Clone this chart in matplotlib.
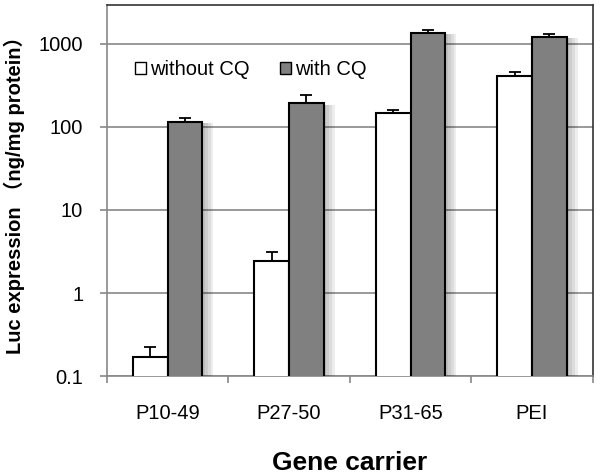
import numpy as np
import matplotlib.pyplot as plt
import matplotlib.patheffects as pe
from matplotlib.ticker import FixedLocator, NullFormatter

plt.rcParams['font.family'] = ['Liberation Sans', 'Noto Sans CJK SC', 'DejaVu Sans']

carriers = ['P10-49', 'P27-50', 'P31-65', 'PEI']
without_cq = [0.17, 2.45, 146, 408]
without_err = [0.055, 0.65, 14, 52]
with_cq = [115, 193, 1357, 1205]
with_err = [13, 52, 103, 115]

x = np.arange(len(carriers))
w = 0.285

fig, ax = plt.subplots(figsize=(6, 4.75), dpi=100)
fig.subplots_adjust(left=0.178, right=0.988, top=0.99, bottom=0.208)

# soft shadow to the right of each bar, faked with a few offset layers
shadow = [pe.SimplePatchShadow(offset=(d, -1), shadow_rgbFace='black', alpha=0.07)
          for d in (8, 6, 4, 2)] + [pe.Normal()]
b1 = ax.bar(x - w/2, without_cq, w, color='white', edgecolor='black', linewidth=1.5,
            label='without CQ', zorder=3)
b2 = ax.bar(x + w/2, with_cq, w, color='#808080', edgecolor='black', linewidth=1.5,
            label='with CQ', zorder=3)
for b in list(b1) + list(b2):
    b.set_path_effects(shadow)

ax.errorbar(x - w/2, without_cq, yerr=[np.zeros(4), without_err], fmt='none',
            ecolor='black', elinewidth=1.3, capsize=4, capthick=1.3, zorder=4)
ax.errorbar(x + w/2, with_cq, yerr=[np.zeros(4), with_err], fmt='none',
            ecolor='black', elinewidth=1.3, capsize=4, capthick=1.3, zorder=4)

ax.set_yscale('log')
ax.set_ylim(0.1, 2950)
ax.set_xlim(-0.5, 3.5)
ax.set_yticks([0.1, 1, 10, 100, 1000])
ax.set_yticklabels(['0.1', '1', '10', '100', '1000'])
ax.yaxis.set_minor_locator(FixedLocator([]))
ax.yaxis.grid(True, color='#888888', linewidth=1.2, zorder=0)

ax.set_xticks(x)
ax.set_xticklabels(carriers)
ax.xaxis.set_minor_locator(FixedLocator([-0.5, 0.5, 1.5, 2.5, 3.5]))
ax.xaxis.set_minor_formatter(NullFormatter())
ax.tick_params(axis='x', which='major', length=0, pad=20, labelsize=14.5)
ax.tick_params(axis='x', which='minor', length=5, color='#888888', width=1.2)
ax.tick_params(axis='y', which='major', length=5, color='#888888', width=1.2,
               labelsize=14.5, pad=12)

for s in ['left', 'bottom']:
    ax.spines[s].set_color('#888888')
    ax.spines[s].set_linewidth(1.2)
for s in ['top', 'right']:
    ax.spines[s].set_color('#333333')
    ax.spines[s].set_linewidth(1.2)

ax.set_xlabel('Gene carrier', fontsize=19, fontweight='bold', labelpad=20)
ax.set_ylabel('Luc expression （ng/mg protein）', fontsize=14.5, fontweight='bold', labelpad=10)

leg = ax.legend(loc='center left', bbox_to_anchor=(0.02, 0.825), ncol=2, frameon=False,
                fontsize=14.5, handlelength=0.55, handleheight=0.55, handletextpad=0.2,
                columnspacing=1.5)
for h in leg.legend_handles:
    h.set_path_effects([])
    h.set_linewidth(1.0)

fig.savefig('out.png', dpi=100)
